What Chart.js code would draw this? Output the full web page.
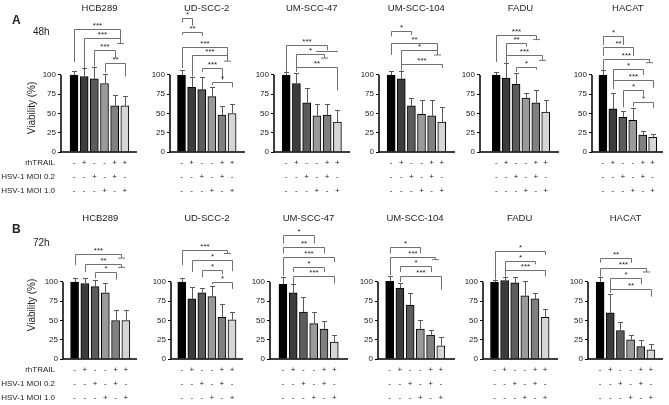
<!DOCTYPE html>
<html lang="en">
<head>
<meta charset="UTF-8">
<title>Viability after rhTRAIL and HSV-1</title>
<script src="https://cdn.jsdelivr.net/npm/chart.js"></script>
<style>
  html, body { margin: 0; padding: 0; background: #fff; overflow: hidden; }
  body {
    width: 669px; height: 405px; position: relative;
    font-family: 'Liberation Sans', Arial, sans-serif; color: #222;
  }
  canvas.panel { position: absolute; }
  .txt { position: absolute; white-space: nowrap; line-height: 10px; z-index: 2; }
  .title { font-size: 9.5px; transform: translateX(-50%); }
  .row { font-size: 8px; text-align: right; }
  .ytitle { font-size: 10px; transform: translate(-50%, -50%) rotate(-90deg); }
  .letter { font-size: 12px; font-weight: bold; line-height: 12px; }
  .time { font-size: 10px; }
</style>
</head>
<body>
<script>
  // treatments, one entry per bar
  const rhTRAIL = ['-', '+', '-', '-', '+', '+'];
  const moi02   = ['-', '-', '+', '-', '+', '-'];
  const moi10   = ['-', '-', '-', '+', '-', '+'];
  const rowNames = ['rhTRAIL', 'HSV-1 MOI 0.2', 'HSV-1 MOI 1.0'];

  const cellLines = ['HCB289', 'UD-SCC-2', 'UM-SCC-47', 'UM-SCC-104', 'FADU', 'HACAT'];
  const yTicks = [0, 25, 50, 75, 100];

  // viability (%) and SD, 48h
  const viability48h = [
    [100, 98, 95, 89, 60, 60],
    [100, 84, 81, 72, 48, 50],
    [100, 89, 64, 47, 48, 39],
    [100, 95, 60, 49, 47, 39],
    [100, 96, 88, 70, 64, 52],
    [100, 56, 45, 41, 22, 19]
  ];
  const sd48h = [
    [5, 11, 15, 12, 14, 13],
    [6, 13, 16, 12, 12, 12],
    [4, 14, 19, 15, 14, 15],
    [5, 10, 10, 18, 21, 20],
    [4, 19, 15, 7, 16, 15],
    [6, 21, 8, 16, 5, 5]
  ];
  // viability (%) and SD, 72h
  const viability72h = [
    [100, 98, 94, 86, 50, 50],
    [100, 78, 86, 81, 54, 51],
    [97, 86, 61, 46, 39, 22],
    [101, 92, 70, 39, 31, 17],
    [100, 102, 99, 82, 78, 54],
    [100, 60, 37, 25, 16, 12]
  ];
  const sd72h = [
    [5, 7, 8, 13, 14, 14],
    [5, 15, 6, 14, 17, 10],
    [10, 11, 19, 15, 10, 9],
    [7, 7, 16, 11, 7, 11],
    [2, 4, 8, 19, 8, 11],
    [6, 25, 11, 6, 9, 7]
  ];

  // significance brackets: [from bar, to bar, level, left leg end, right leg end, label, end tick]
  const sig48h = [
    [[0, 4.5, 160, 117, 141, '***', 1], [1, 4.5, 148, 109, 148, '***', 0], [2, 4, 132, 111, 122, '***', 0], [3, 5, 115, 103, 98, '**', 0]],
    [[0, 1, 174, 168, 164, '*', 0], [0, 2, 156, 152, 151, '**', 0], [0, 4.5, 137, 109, 118, '***', 1], [1, 4.5, 126, 98, 126, '***', 0], [2, 4, 109, 104, 94, '***', 0], [3, 5, 91, 87, 84, '*', 0]],
    [[0, 4, 139, 104, 132, '***', 0], [1, 3.7, 127, 106, 122, '*', 1], [2.9, 5, 131.5, 131.5, 131.5, '', 0], [1, 5, 111, 104, 80, '**', 0]],
    [[0, 2, 157, 150, 152, '*', 0], [0, 4.5, 142, 126, 126, '**', 1], [1, 4.5, 132, 105, 132, '*', 0], [1, 5, 114, 106, 109, '***', 0]],
    [[0, 4, 152, 117, 146, '***', 1], [1, 3, 141, 118, 137, '**', 0], [1, 4.6, 126, 115, 119, '***', 1], [2, 4, 111, 104, 107, '*', 0]],
    [[0, 2, 150, 139, 139, '*', 0], [0, 3, 136, 125, 125, '**', 0], [0, 4.6, 121, 106, 116, '***', 1], [1, 4, 108, 82, 100, '*', 0], [1, 5, 94, 82, 83, '***', 0], [2, 4, 81, 58, 73, '*', 0], [3, 5, 64.5, 59, 57, '*', 0]]
  ];
  const sig72h = [
    [[0, 4.5, 136, 122, 131, '***', 1], [1, 4.5, 124, 113, 119, '**', 1], [2, 4, 113, 105, 103, '*', 0]],
    [[0, 4.5, 142, 122, 137, '***', 1], [1, 5, 129, 113, 114, '*', 0], [2, 4, 115, 106, 110, '*', 0], [3, 5, 100, 97, 91, '*', 0]],
    [[0, 3, 161, 150, 150, '*', 0], [0, 4, 146, 137, 137, '**', 0], [0, 5, 133, 108, 126, '***', 0], [1, 4, 120, 113, 113, '*', 0], [1, 5, 108, 97, 98, '***', 0]],
    [[0, 3, 146, 137, 137, '*', 0], [0, 4.4, 133, 109, 129, '***', 1], [1, 4, 121, 113, 113, '*', 0], [1, 5, 108, 100, 90, '***', 0]],
    [[0, 5, 140, 103, 135, '*', 0], [1, 4, 127, 108, 123, '*', 0], [1, 5, 116, 107, 107, '***', 0]],
    [[0, 3, 131, 125, 125, '**', 0], [0, 4.5, 118, 107, 113, '***', 1], [1, 4, 105, 90, 97, '*', 0], [1, 5, 91, 86, 81, '**', 0]]
  ];

  // bar fills, black to light grey
  const barColors = ['#000000', '#3c3c3c', '#5c5c5c', '#9a9a9a', '#808080', '#d6d6d6'];

  // panel geometry in page px: [y axis x, first bar centre, last bar centre, x axis end]
  const geomA = [[61, 69, 130, 137], [170, 176.3, 237, 245], [274, 281, 342.5, 350], [379, 386, 446.7, 455], [479.5, 491, 550, 558], [592, 598, 657.7, 663]];
  const geomB = [[63, 69.5, 131, 137], [171, 176.7, 237, 243], [270, 277.7, 339.3, 348], [378, 384.3, 445.7, 455], [483, 489.3, 550, 558], [588, 595, 656, 663]];

  const CANVAS_H = 198, PLOT_BOTTOM = 152, Y_W = 28, PAD_R = 4;
  const Y_MAX = PLOT_BOTTOM / 0.77;   // 100 % sits 77 px above the x axis

  function addText(cls, text, css) {
    const d = document.createElement('div');
    d.className = 'txt ' + cls;
    d.textContent = text;
    Object.assign(d.style, css);
    document.body.appendChild(d);
  }

  function marksPlugin(values, sd, sig) {
    return {
      id: 'marks',
      afterDatasetsDraw(chart) {
        const { ctx, chartArea } = chart;
        const x = chart.scales.x, y = chart.scales.y;
        ctx.save();
        // error bars (upper only)
        ctx.lineWidth = 1;
        ctx.strokeStyle = '#5a5a5a';
        values.forEach((v, i) => {
          const px = Math.round(x.getPixelForValue(i)) + 0.5;
          const y0 = y.getPixelForValue(v), y1 = Math.round(y.getPixelForValue(v + sd[i])) + 0.5;
          ctx.beginPath();
          ctx.moveTo(px, y0); ctx.lineTo(px, y1);
          ctx.moveTo(px - 2.5, y1); ctx.lineTo(px + 2.5, y1);
          ctx.stroke();
        });
        // axes: y line only from 0 to 100
        const bottom = y.getPixelForValue(0);
        ctx.strokeStyle = '#000';
        ctx.lineWidth = 1.5;
        ctx.beginPath();
        ctx.moveTo(chartArea.left, y.getPixelForValue(100));
        ctx.lineTo(chartArea.left, bottom);
        ctx.lineTo(chartArea.right, bottom);
        ctx.stroke();
        // brackets
        ctx.lineWidth = 1;
        ctx.strokeStyle = '#707070';
        ctx.fillStyle = '#222';
        ctx.font = '8px "Liberation Sans", Arial, sans-serif';
        ctx.textAlign = 'center';
        ctx.textBaseline = 'alphabetic';
        sig.forEach(([a, b, lv, la, lb, label, tick]) => {
          const xa = Math.round(x.getPixelForValue(a)) + 0.5;
          const xb = Math.round(x.getPixelForValue(b)) + 0.5;
          const yl = Math.round(y.getPixelForValue(lv)) + 0.5;
          const yb = y.getPixelForValue(lb);
          ctx.beginPath();
          ctx.moveTo(xa, y.getPixelForValue(la));
          ctx.lineTo(xa, yl);
          ctx.lineTo(xb, yl);
          ctx.lineTo(xb, yb);
          if (tick) { ctx.moveTo(xb - 3.5, yb); ctx.lineTo(xb + 3.5, yb); }
          ctx.stroke();
          if (label) ctx.fillText(label, (xa + xb) / 2, yl - 1.5);
        });
        ctx.restore();
      }
    };
  }

  function drawPanel(top, g, values, sd, sig) {
    const [axisX, c1, c6, axisEnd] = g;
    const slot = (c6 - c1) / 5;
    const xMin = -(c1 - axisX) / slot;
    const xMax = 5 + (axisEnd - c6) / slot;

    const cv = document.createElement('canvas');
    cv.className = 'panel';
    cv.width = Math.round(axisEnd - axisX) + Y_W + PAD_R;
    cv.height = CANVAS_H;
    cv.style.left = (axisX - Y_W) + 'px';
    cv.style.top = top + 'px';
    document.body.appendChild(cv);

    new Chart(cv, {
      type: 'bar',
      data: {
        datasets: [{
          data: values.map((v, i) => ({ x: i, y: v })),
          backgroundColor: barColors,
          borderColor: '#000',
          borderWidth: 1,
          borderSkipped: 'start',
          barThickness: 8
        }]
      },
      options: {
        responsive: false,
        animation: false,
        events: [],
        layout: { padding: { left: 0, right: PAD_R, top: 0, bottom: 0 } },
        plugins: { legend: { display: false }, tooltip: { enabled: false } },
        scales: {
          x: {
            type: 'linear', min: xMin, max: xMax,
            grid: { display: false, drawTicks: false },
            border: { display: false },
            afterBuildTicks: s => { s.ticks = [0, 1, 2, 3, 4, 5].map(v => ({ value: v })); },
            afterFit: s => { s.height = CANVAS_H - PLOT_BOTTOM; s.paddingLeft = 0; s.paddingRight = 0; },
            ticks: {
              autoSkip: false, maxRotation: 0, padding: 3.5, color: '#222',
              font: { family: '"Liberation Sans", Arial, sans-serif', size: 8, lineHeight: 1.75 },
              callback: v => [rhTRAIL[v], moi02[v], moi10[v]]
            }
          },
          y: {
            min: 0, max: Y_MAX,
            grid: { drawOnChartArea: false, drawTicks: true, tickLength: 3, color: '#000', lineWidth: 1 },
            border: { display: false },
            afterBuildTicks: s => { s.ticks = yTicks.map(v => ({ value: v })); },
            afterFit: s => { s.width = Y_W; s.paddingTop = 0; s.paddingBottom = 0; },
            ticks: { padding: 2, color: '#222', font: { family: '"Liberation Sans", Arial, sans-serif', size: 8 } }
          }
        }
      },
      plugins: [marksPlugin(values, sd, sig)]
    });
  }

  const rows = [
    { top: 0, geom: geomA, values: viability48h, sd: sd48h, sig: sig48h, letter: 'A', time: '48h' },
    { top: 207, geom: geomB, values: viability72h, sd: sd72h, sig: sig72h, letter: 'B', time: '72h' }
  ];

  rows.forEach((r, ri) => {
    cellLines.forEach((name, i) => {
      drawPanel(r.top, r.geom[i], r.values[i], r.sd[i], r.sig[i]);
      const g = r.geom[i];
      addText('title', name, { left: ((g[1] + g[2]) / 2) + 'px', top: (r.top + (ri ? 6 : 3)) + 'px' });
    });
    addText('letter', r.letter, { left: '12px', top: (r.top + 14 + (ri ? 2 : 0)) + 'px' });
    addText('time', r.time, { left: '33px', top: (r.top + 27 + (ri ? 4 : 0)) + 'px' });
    addText('ytitle', 'Viability (%)', { left: '32px', top: (r.top + (ri ? 98 : 108)) + 'px' });
    rowNames.forEach((n, k) => {
      addText('row', n, { right: '614px', top: (r.top + 158 + k * 14) + 'px' });
    });
  });
</script>
</body>
</html>
